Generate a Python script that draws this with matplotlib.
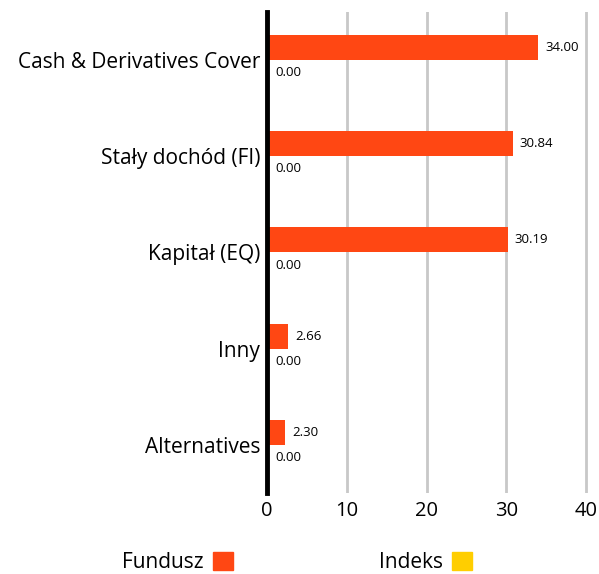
import matplotlib.pyplot as plt
from matplotlib.patches import Patch
import numpy as np

plt.rcParams['font.family'] = ['Open Sans', 'DejaVu Sans']

# data
categories = ['Cash & Derivatives Cover', 'Stały dochód (FI)', 'Kapitał (EQ)', 'Inny', 'Alternatives']
fund = [34.00, 30.84, 30.19, 2.66, 2.30]
index = [0.00, 0.00, 0.00, 0.00, 0.00]
xticks = [0, 10, 20, 30, 40]

fund_color = '#ff4713'
index_color = '#ffce00'

fig = plt.figure(figsize=(5.99, 5.74), dpi=100)
ax = fig.add_axes([267 / 599, 81 / 574, 332 / 599, 481 / 574])

y = np.arange(len(categories))
h = 0.26
ax.barh(y - h / 2, fund, height=h, color=fund_color, zorder=3)
ax.barh(y + h / 2, index, height=h, color=index_color, zorder=3)

for yi, v in zip(y, fund):
    ax.annotate(f'{v:.2f}', (v, yi - h / 2), xytext=(5, 0), textcoords='offset points',
                va='center', ha='left', fontsize=9.5)
for yi, v in zip(y, index):
    ax.annotate(f'{v:.2f}', (v, yi + h / 2), xytext=(6, 0), textcoords='offset points',
                va='center', ha='left', fontsize=9.5)

ax.set_xlim(0, 40 * 332 / 319)
ax.set_ylim(len(categories) - 0.5, -0.5)
ax.set_xticks(xticks)
ax.set_xticklabels([str(t) for t in xticks], fontsize=14.5)
ax.set_yticks(y)
ax.set_yticklabels(categories, fontsize=15)
ax.tick_params(length=0, pad=6)
ax.tick_params(axis='y', pad=5)

ax.grid(axis='x', color='#c8c8c8', linewidth=2, zorder=0)
for s in ['top', 'right', 'bottom']:
    ax.spines[s].set_visible(False)
ax.spines['left'].set_linewidth(3.5)
ax.spines['left'].set_color('black')
ax.spines['left'].set_zorder(4)

handles = [Patch(color=fund_color, label='Fundusz'), Patch(color=index_color, label='Indeks')]
fig.legend(handles=handles, loc='lower center', bbox_to_anchor=(0.496, -0.031), ncol=2,
           frameon=False, markerfirst=False, fontsize=15, handlelength=0.95,
           handleheight=0.95, columnspacing=7.0, handletextpad=0.45)

fig.savefig('out.png', dpi=100)
